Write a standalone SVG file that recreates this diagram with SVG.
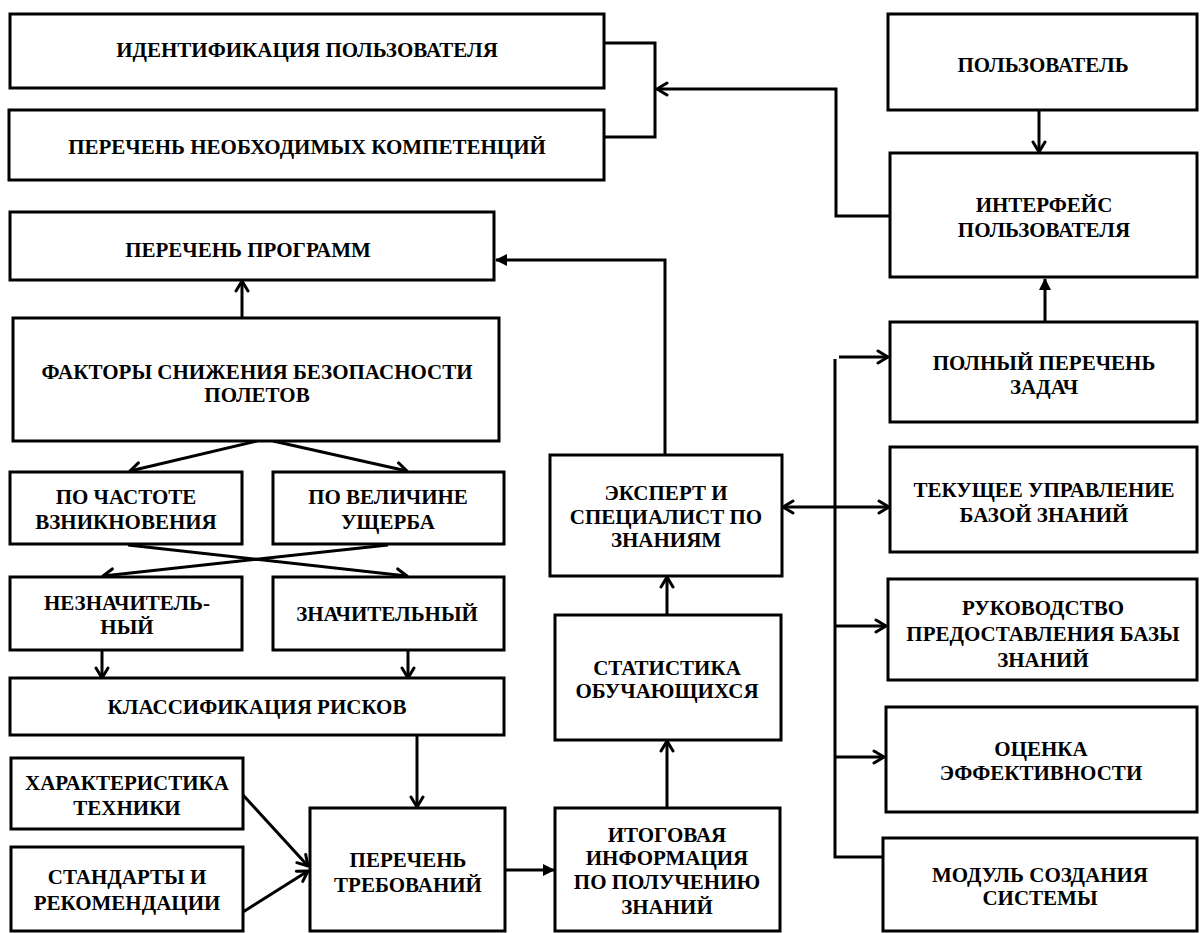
<svg xmlns="http://www.w3.org/2000/svg" width="1200" height="933" viewBox="0 0 1200 933">
<style>
.box{fill:#fff;stroke:#000;stroke-width:3}
.t{font-family:"Liberation Serif","DejaVu Serif",serif;font-weight:bold;font-size:21px;text-anchor:middle;fill:#000}
.c{fill:none;stroke:#000;stroke-width:3}
.o{marker-end:url(#open)}
.f{marker-end:url(#fill)}
</style>
<defs>
<marker id="open" markerUnits="userSpaceOnUse" viewBox="0 0 14 16" refX="12" refY="8" markerWidth="14" markerHeight="16" orient="auto-start-reverse">
<path d="M2,2 L12,8 L2,14" fill="none" stroke="#000" stroke-width="3" stroke-linecap="round" stroke-linejoin="round"/>
</marker>
<marker id="fill" markerUnits="userSpaceOnUse" viewBox="0 0 12 12" refX="11" refY="6" markerWidth="12" markerHeight="12" orient="auto">
<path d="M0,0 L12,6 L0,12 z" fill="#000"/>
</marker>
</defs>
<rect width="1200" height="933" fill="#fff"/>

<g id="connectors">
<polyline class="c" points="604,43 655,43 655,137 604,137"/>
<polyline class="c o" points="889,216 836,216 836,89 657,89"/>
<line class="c o" x1="1039" y1="110" x2="1039" y2="152"/>
<line class="c f" x1="1045" y1="322" x2="1045" y2="279"/>
<polyline class="c f" points="665,455 665,260 496,260"/>
<line class="c o" x1="242" y1="318" x2="242" y2="281"/>
<line class="c o" x1="257" y1="441" x2="130" y2="471"/>
<line class="c o" x1="273" y1="441" x2="407" y2="471"/>
<line class="c o" x1="128" y1="545" x2="407" y2="576"/>
<line class="c o" x1="388" y1="545" x2="103" y2="576"/>
<line class="c o" x1="102" y1="650" x2="102" y2="678"/>
<line class="c o" x1="408" y1="650" x2="408" y2="678"/>
<line class="c o" x1="417" y1="736" x2="417" y2="807"/>
<line class="c o" x1="243" y1="795" x2="308" y2="866"/>
<line class="c o" x1="243" y1="912" x2="308" y2="871"/>
<line class="c f" x1="505" y1="870" x2="554" y2="870"/>
<line class="c o" x1="667" y1="808" x2="667" y2="741"/>
<line class="c o" x1="667" y1="615" x2="667" y2="577"/>
<line class="c" x1="783" y1="507" x2="889" y2="507" marker-start="url(#open)" marker-end="url(#open)"/>
<polyline class="c" points="835,359 835,857 883,857"/>
<line class="c o" x1="839" y1="357" x2="888" y2="357"/>
<line class="c o" x1="835" y1="626" x2="886" y2="626"/>
<line class="c o" x1="835" y1="757" x2="884" y2="757"/>
</g>

<g id="n-ident"><rect class="box" x="10" y="14" width="594" height="74"/><text class="t" x="307" y="57">ИДЕНТИФИКАЦИЯ ПОЛЬЗОВАТЕЛЯ</text></g>
<g id="n-kompet"><rect class="box" x="9" y="110" width="595" height="70"/><text class="t" x="307" y="154">ПЕРЕЧЕНЬ НЕОБХОДИМЫХ КОМПЕТЕНЦИЙ</text></g>
<g id="n-user"><rect class="box" x="888" y="14" width="309" height="96"/><text class="t" x="1043" y="72">ПОЛЬЗОВАТЕЛЬ</text></g>
<g id="n-interface"><rect class="box" x="890" y="153" width="307" height="124"/><text class="t" x="1044" y="212">ИНТЕРФЕЙС</text><text class="t" x="1044" y="237">ПОЛЬЗОВАТЕЛЯ</text></g>
<g id="n-tasks"><rect class="box" x="890" y="322" width="307" height="100"/><text class="t" x="1044" y="370">ПОЛНЫЙ ПЕРЕЧЕНЬ</text><text class="t" x="1044" y="394">ЗАДАЧ</text></g>
<g id="n-current"><rect class="box" x="890" y="447" width="307" height="105"/><text class="t" x="1044" y="497">ТЕКУЩЕЕ УПРАВЛЕНИЕ</text><text class="t" x="1044" y="522">БАЗОЙ ЗНАНИЙ</text></g>
<g id="n-guide"><rect class="box" x="888" y="579" width="309" height="101"/><text class="t" x="1043" y="615">РУКОВОДСТВО</text><text class="t" x="1043" y="641">ПРЕДОСТАВЛЕНИЯ БАЗЫ</text><text class="t" x="1043" y="667">ЗНАНИЙ</text></g>
<g id="n-eval"><rect class="box" x="886" y="707" width="311" height="105"/><text class="t" x="1041" y="756">ОЦЕНКА</text><text class="t" x="1041" y="780">ЭФФЕКТИВНОСТИ</text></g>
<g id="n-module"><rect class="box" x="883" y="838" width="314" height="93"/><text class="t" x="1040" y="882">МОДУЛЬ СОЗДАНИЯ</text><text class="t" x="1040" y="905">СИСТЕМЫ</text></g>
<g id="n-programs"><rect class="box" x="10" y="212" width="484" height="68"/><text class="t" x="248" y="257">ПЕРЕЧЕНЬ ПРОГРАММ</text></g>
<g id="n-factors"><rect class="box" x="13" y="318" width="486" height="123"/><text class="t" x="257" y="379">ФАКТОРЫ СНИЖЕНИЯ БЕЗОПАСНОСТИ</text><text class="t" x="257" y="402">ПОЛЕТОВ</text></g>
<g id="n-freq"><rect class="box" x="10" y="472" width="232" height="72"/><text class="t" x="126" y="504">ПО ЧАСТОТЕ</text><text class="t" x="126" y="529">ВЗНИКНОВЕНИЯ</text></g>
<g id="n-dmg"><rect class="box" x="273" y="472" width="231" height="72"/><text class="t" x="388" y="504">ПО ВЕЛИЧИНЕ</text><text class="t" x="388" y="529">УЩЕРБА</text></g>
<g id="n-minor"><rect class="box" x="10" y="577" width="232" height="73"/><text class="t" x="127" y="610">НЕЗНАЧИТЕЛЬ-</text><text class="t" x="127" y="634">НЫЙ</text></g>
<g id="n-major"><rect class="box" x="273" y="577" width="231" height="73"/><text class="t" x="387" y="621">ЗНАЧИТЕЛЬНЫЙ</text></g>
<g id="n-class"><rect class="box" x="10" y="678" width="494" height="57"/><text class="t" x="257" y="714">КЛАССИФИКАЦИЯ РИСКОВ</text></g>
<g id="n-tech"><rect class="box" x="11" y="758" width="232" height="71"/><text class="t" x="127" y="790">ХАРАКТЕРИСТИКА</text><text class="t" x="127" y="815">ТЕХНИКИ</text></g>
<g id="n-std"><rect class="box" x="11" y="847" width="232" height="84"/><text class="t" x="127" y="884">СТАНДАРТЫ И</text><text class="t" x="127" y="910">РЕКОМЕНДАЦИИ</text></g>
<g id="n-req"><rect class="box" x="310" y="808" width="195" height="123"/><text class="t" x="408" y="867">ПЕРЕЧЕНЬ</text><text class="t" x="408" y="892">ТРЕБОВАНИЙ</text></g>
<g id="n-summary"><rect class="box" x="555" y="808" width="225" height="123"/><text class="t" x="667" y="842">ИТОГОВАЯ</text><text class="t" x="667" y="865">ИНФОРМАЦИЯ</text><text class="t" x="667" y="889">ПО ПОЛУЧЕНИЮ</text><text class="t" x="667" y="914">ЗНАНИЙ</text></g>
<g id="n-stats"><rect class="box" x="555" y="615" width="226" height="125"/><text class="t" x="667" y="675">СТАТИСТИКА</text><text class="t" x="667" y="698">ОБУЧАЮЩИХСЯ</text></g>
<g id="n-expert"><rect class="box" x="550" y="455" width="232" height="121"/><text class="t" x="666" y="500">ЭКСПЕРТ И</text><text class="t" x="666" y="524">СПЕЦИАЛИСТ ПО</text><text class="t" x="666" y="547">ЗНАНИЯМ</text></g>
</svg>
